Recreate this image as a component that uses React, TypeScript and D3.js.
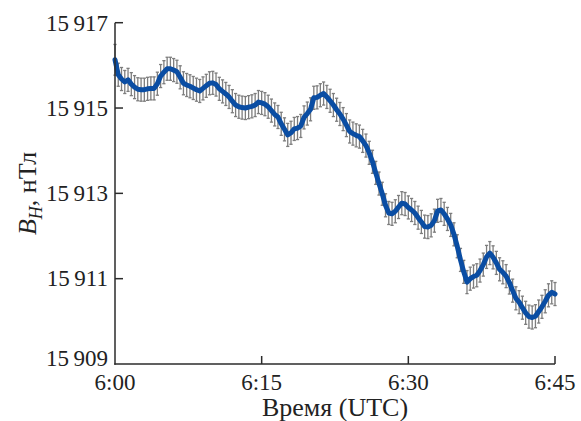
import React from "react";
import * as d3 from "d3";

// time in minutes after 6:00 UTC, one sample every 20 s
const step = 1 / 3;
// B_H values (nT)
const bhValues = [
  15916.13, 15915.78, 15915.68, 15915.61, 15915.66, 15915.56, 15915.49, 15915.44,
  15915.43, 15915.43, 15915.45, 15915.46, 15915.46, 15915.57, 15915.75, 15915.84,
  15915.92, 15915.92, 15915.89, 15915.85, 15915.72, 15915.58, 15915.54, 15915.51,
  15915.47, 15915.43, 15915.4, 15915.46, 15915.52, 15915.58, 15915.59, 15915.55,
  15915.45, 15915.39, 15915.33, 15915.26, 15915.16, 15915.07, 15915.03, 15915.01,
  15915.0, 15915.02, 15915.04, 15915.07, 15915.14, 15915.12, 15915.09, 15915.03,
  15914.94, 15914.85, 15914.79, 15914.63, 15914.5, 15914.37, 15914.42, 15914.51,
  15914.53, 15914.58, 15914.78, 15914.87, 15914.97, 15915.24, 15915.25, 15915.3,
  15915.34, 15915.26, 15915.17, 15915.07, 15914.96, 15914.86, 15914.74, 15914.6,
  15914.45, 15914.4, 15914.36, 15914.33, 15914.23, 15914.12, 15913.95, 15913.74,
  15913.48, 15913.23, 15912.99, 15912.72, 15912.54, 15912.52, 15912.58, 15912.68,
  15912.77, 15912.75, 15912.67, 15912.61, 15912.54, 15912.43, 15912.33, 15912.22,
  15912.21, 15912.25, 15912.36, 15912.59, 15912.61, 15912.52, 15912.4, 15912.26,
  15912.04, 15911.76, 15911.44, 15911.16, 15910.92, 15911.0, 15911.05, 15911.08,
  15911.19, 15911.33, 15911.51, 15911.6, 15911.5, 15911.37, 15911.22, 15911.15,
  15911.06, 15910.91, 15910.72, 15910.54, 15910.45, 15910.32, 15910.2, 15910.11,
  15910.09, 15910.12, 15910.23, 15910.34, 15910.47, 15910.61, 15910.68, 15910.64,
];
// half-length of the error bars (nT); the first sample is a little wider
const errHalf = 0.27;
const errHalfFirst = 0.36;

const xTicks = [0, 15, 30, 45];
const xTickLabels = ["6:00", "6:15", "6:30", "6:45"];
const yTicks = [15909, 15911, 15913, 15915, 15917];

const W = 581;
const H = 421;
const margin = { left: 115, right: 26, top: 22.7, bottom: 57 };
const serif = { fontFamily: '"Liberation Serif"' };

const fmtY = (v: number) => {
  const s = String(v);
  return s.slice(0, 2) + "\u2009" + s.slice(2);
};

const App = () => {
  const x = d3.scaleLinear().domain([0, 45]).range([margin.left, W - margin.right]);
  const y = d3.scaleLinear().domain([15909, 15917]).range([H - margin.bottom, margin.top]);

  const pts = bhValues.map((v, i) => ({ t: i * step, v, e: i === 0 ? errHalfFirst : errHalf }));

  const line = d3
    .line<{ t: number; v: number }>()
    .x((d) => x(d.t))
    .y((d) => y(d.v));

  const axisColor = "#2b2b2b";
  const x0 = x(0);
  const y0 = y(15909);

  return (
    <svg
      width={W}
      height={H}
      viewBox={`0 0 ${W} ${H}`}
      style={{ position: "absolute", left: 0, top: 0, background: "#fff" }}
    >
      {/* error bars */}
      <g stroke="#7d7d7d" strokeWidth={1.3}>
        {pts.map((d, i) => {
          const cx = x(d.t);
          const y1 = y(d.v + d.e);
          const y2 = y(d.v - d.e);
          return (
            <g key={i}>
              <line x1={cx} x2={cx} y1={y1} y2={y2} />
              <line x1={cx - 1.6} x2={cx + 1.6} y1={y1} y2={y1} />
              <line x1={cx - 1.6} x2={cx + 1.6} y1={y2} y2={y2} />
            </g>
          );
        })}
      </g>

      {/* series */}
      <path
        d={line(pts) ?? ""}
        fill="none"
        stroke="#0a4da3"
        strokeWidth={5}
        strokeLinejoin="round"
        strokeLinecap="round"
      />

      {/* axes */}
      <g stroke={axisColor} strokeWidth={1.5}>
        <line x1={x0} x2={x0} y1={y(15917)} y2={y0 + 0.75} />
        <line x1={x0 - 0.75} x2={x(45)} y1={y0} y2={y0} />
        {yTicks.slice(1).map((t) => (
          <line key={t} x1={x0} x2={x0 + 8} y1={y(t)} y2={y(t)} />
        ))}
        {xTicks.slice(1).map((t) => (
          <line key={t} x1={x(t)} x2={x(t)} y1={y0} y2={y0 - 8} />
        ))}
      </g>

      <g fill="#222">
        {yTicks.map((t, i) => (
          <text
            key={t}
            x={x0 - 7}
            y={y(t) - (i === 0 ? 6 : 0)}
            dy="0.34em"
            textAnchor="end"
            fontSize={23}
            style={serif}
          >
            {fmtY(t)}
          </text>
        ))}
        {xTicks.map((t, i) => (
          <text key={t} x={x(t)} y={y0 + 26} textAnchor="middle" fontSize={23} style={serif}>
            {xTickLabels[i]}
          </text>
        ))}
        <text x={(x0 + x(45)) / 2} y={416} textAnchor="middle" fontSize={26} style={serif}>
          Время (UTC)
        </text>
        <text
          transform={`translate(36, ${(y(15917) + y0) / 2}) rotate(-90)`}
          textAnchor="middle"
          fontSize={26}
          style={serif}
        >
          <tspan fontStyle="italic">B</tspan>
          <tspan fontStyle="italic" fontSize={18} dy={6}>
            H
          </tspan>
          <tspan dy={-6}>, нТл</tspan>
        </text>
      </g>
    </svg>
  );
};

export default App;
